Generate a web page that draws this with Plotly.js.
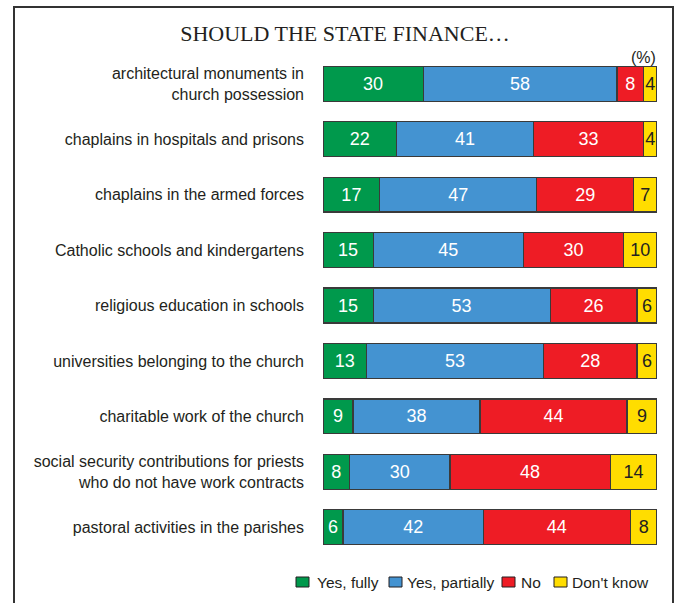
<!DOCTYPE html>
<html>
<head>
<meta charset="utf-8">
<script src="https://cdn.plot.ly/plotly-3.0.1.min.js"></script>
<style>html,body{margin:0;padding:0;background:#fff;}#chart{width:678px;height:603px;}</style>
</head>
<body>
<div id="chart"></div>
<script>
const categories = [
  "architectural monuments in<br>church possession",
  "chaplains in hospitals and prisons",
  "chaplains in the armed forces",
  "Catholic schools and kindergartens",
  "religious education in schools",
  "universities belonging to the church",
  "charitable work of the church",
  "social security contributions for priests<br>who do not have work contracts",
  "pastoral activities in the parishes"
];
const yesFully     = [30, 22, 17, 15, 15, 13, 9, 8, 6];
const yesPartially = [58, 41, 47, 45, 53, 53, 38, 30, 42];
const no           = [8, 33, 29, 30, 26, 28, 44, 48, 44];
const dontKnow     = [4, 4, 7, 10, 6, 6, 9, 14, 8];
const seriesNames  = ["Yes, fully", "Yes, partially", "No", "Don't know"];
const colors = ["#00994C", "#4493D1", "#EE1C25", "#FFDD00"];
const textColors = ["#ffffff", "#ffffff", "#ffffff", "#231F20"];
const allSeries = [yesFully, yesPartially, no, dontKnow];

const FONT = "Liberation Sans, Arial, sans-serif";
const PL = 323, PW = 334, PT = 56, PH = 499;
const px2x = p => (p - PL) / PW;
const py2y = p => (PT + PH - p) / PH;

const traces = allSeries.map((vals, i) => ({
  type: "bar",
  orientation: "h",
  name: seriesNames[i],
  y: categories,
  x: vals,
  text: vals.map(String),
  textposition: "inside",
  insidetextanchor: "middle",
  textangle: 0,
  constraintext: "none",
  insidetextfont: {family: FONT, size: 18, color: textColors[i]},
  marker: {color: colors[i], line: {color: "#3a3a3a", width: 1.2}},
  hoverinfo: "none",
  showlegend: false
}));

// manual legend (positions in pixels)
const legendMarkerX = [296, 389, 502, 554];
const legendTextX = [317, 407, 521, 572];
const legendY = 582;
const shapes = [
  {type: "rect", xref: "paper", yref: "paper",
   x0: px2x(14), x1: px2x(673), y0: py2y(640), y1: py2y(7),
   line: {color: "#333333", width: 2}, fillcolor: "rgba(0,0,0,0)", layer: "below"}
];
const annotations = [
  {text: "(%)", xref: "paper", yref: "paper", x: px2x(658), xanchor: "right", y: py2y(57), yanchor: "middle", showarrow: false,
   font: {family: FONT, size: 16, color: "#231F20"}}
];
seriesNames.forEach((name, i) => {
  shapes.push({type: "rect", xref: "paper", yref: "paper",
    x0: px2x(legendMarkerX[i]), x1: px2x(legendMarkerX[i] + 13),
    y0: py2y(legendY + 5), y1: py2y(legendY - 5),
    fillcolor: colors[i], line: {color: "#231F20", width: 1}});
  annotations.push({text: name, xref: "paper", yref: "paper", x: px2x(legendTextX[i]), xanchor: "left",
    y: py2y(legendY), yanchor: "middle", showarrow: false, xshift: -2,
    font: {family: FONT, size: 15.5, color: "#231F20"}});
});

const layout = {
  width: 678, height: 603,
  margin: {l: PL, r: 678 - PL - PW, t: PT, b: 603 - PT - PH},
  paper_bgcolor: "#ffffff",
  plot_bgcolor: "#ffffff",
  barmode: "stack",
  bargap: 0.37,
  showlegend: false,
  font: {family: FONT, size: 16, color: "#231F20"},
  xaxis: {range: [0, 100], showgrid: false, zeroline: false, showticklabels: false, showline: false, fixedrange: true},
  yaxis: {
    autorange: "reversed", showgrid: false, zeroline: false, showline: false,
    ticks: "", ticklabelstandoff: 18,
    tickfont: {family: FONT, size: 16, color: "#231F20"}
  },
  title: {
    text: "SHOULD THE STATE FINANCE…",
    font: {family: "Liberation Serif, Times New Roman, serif", size: 22, color: "#231F20"},
    x: 345 / 678, xref: "container", xanchor: "center",
    y: 1 - 33 / 603, yref: "container", yanchor: "middle"
  },
  annotations: annotations,
  shapes: shapes
};

Plotly.newPlot("chart", traces, layout, {staticPlot: true, displayModeBar: false});
</script>
</body>
</html>
